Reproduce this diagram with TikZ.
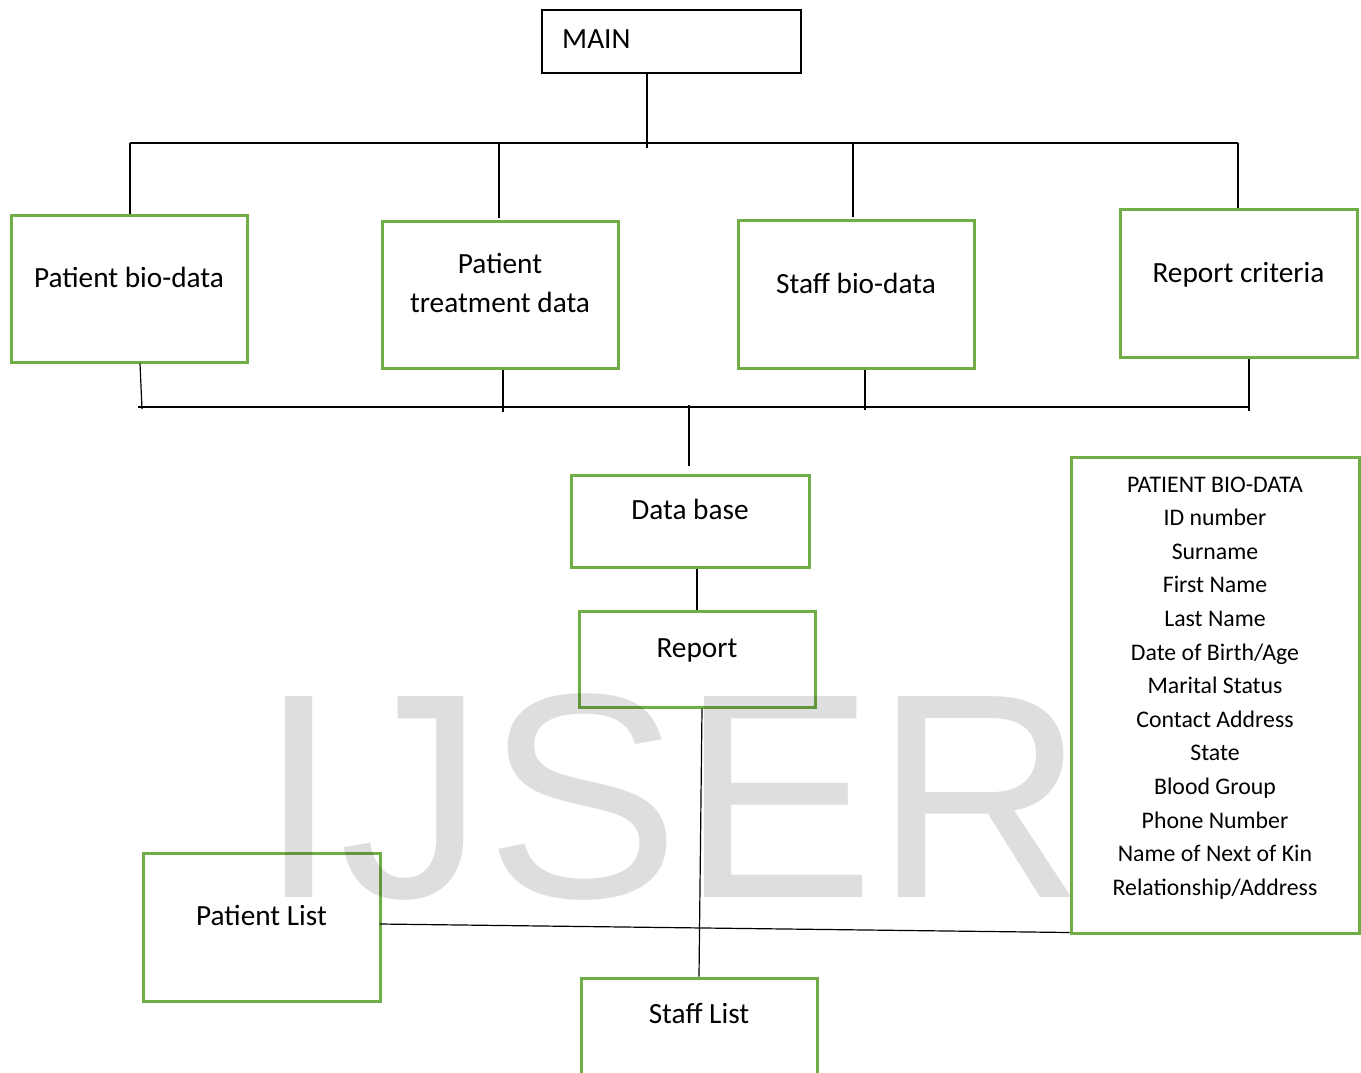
\documentclass[tikz,border=0pt]{standalone}
\usepackage{fontspec}
\setmainfont{Carlito}
\newfontfamily\wmfont{Liberation Sans}
\definecolor{boxgreen}{RGB}{112,173,71}
\tikzset{
  gbox/.style={draw=boxgreen, line width=3pt, inner sep=0pt, fill=none},
  kbox/.style={draw=black, line width=1.3pt, inner sep=0pt},
  conn/.style={draw=black, line width=1.2pt},
  lbl/.style={anchor=base, inner sep=0pt, font=\fontsize{29.3}{34}\selectfont},
  sml/.style={anchor=base, inner sep=0pt, font=\fontsize{23.8}{28}\selectfont},
}
\begin{document}
\begin{tikzpicture}[x=1pt,y=-1pt]
\useasboundingbox (0,0) rectangle (1361,1072);
\clip (0,0) rectangle (1361,1072);
\fill[white] (0,0) rectangle (1361,1072);

% boxes
\node[kbox, minimum width=259, minimum height=63] (main) at (671.5,41.5) {};
\node[lbl, anchor=base west] (mainT) at (562,48) {MAIN};

\node[gbox, minimum width=236, minimum height=147] (pbio) at (129,288.5) {};
\node[lbl] (pbioT) at (129,287) {Patient bio-data};

\node[gbox, minimum width=236, minimum height=147] (ptreat) at (500,294.5) {};
\node[lbl] (ptreatT1) at (500,273) {Patient};
\node[lbl] (ptreatT2) at (500,312) {treatment data};

\node[gbox, minimum width=236, minimum height=148] (sbio) at (856,294) {};
\node[lbl] (sbioT) at (856,293) {Staff bio-data};

\node[gbox, minimum width=237, minimum height=148] (rcrit) at (1238.5,283) {};
\node[lbl] (rcritT) at (1238.5,282) {Report criteria};

\node[gbox, minimum width=238, minimum height=92] (db) at (690,521) {};
\node[lbl] (dbT) at (690,519) {Data base};

\node[gbox, minimum width=236, minimum height=96] (rep) at (697,659) {};
\node[lbl] (repT) at (697,657) {Report};

\node[gbox, minimum width=237, minimum height=148] (plist) at (261.5,927) {};
\node[lbl] (plistT) at (261.5,925) {Patient List};

\node[gbox, minimum width=236, minimum height=104] (slist) at (699,1030) {};
\node[lbl] (slistT) at (699,1023) {Staff List};

\node[gbox, minimum width=288, minimum height=476] (lbox) at (1215,695) {};
\foreach \t [count=\i from 0] in {PATIENT BIO-DATA, ID number, Surname, First Name, Last Name, Date of Birth/Age, Marital Status, Contact Address, State, Blood Group, Phone Number, Name of Next of Kin, Relationship/Address}
  \node[sml] (l\i) at (1215,{492+33.6*\i}) {\t};

% top bus
\coordinate (tL) at (130,143);
\coordinate (tR) at (1238,143);
\draw[conn] (tL) -- (tR);
\draw[conn] ([xshift=-24.5pt]main.south) -- ++(0,74);
\draw[conn] (tL) -- ([xshift=1pt]pbio.north);
\draw[conn] ([xshift=-1pt]ptreat.north |- tL) -- ([xshift=-1pt,yshift=2pt]ptreat.north);
\draw[conn] ([xshift=-3pt]sbio.north |- tL) -- ([xshift=-3pt,yshift=2pt]sbio.north);
\draw[conn] (tR) -- ([xshift=-0.5pt]rcrit.north);

% bottom bus
\coordinate (bL) at (138,407);
\coordinate (bR) at (1249,407);
\draw[conn] (bL) -- (bR);
\draw[conn] ([xshift=11pt]pbio.south) -- (142,409);
\draw[conn] ([xshift=3pt]ptreat.south) -- ++(0,42);
\draw[conn] ([xshift=9pt]sbio.south) -- ++(0,40);
\draw[conn] ([xshift=10.5pt]rcrit.south) -- ++(0,52);
\draw[conn] (689,405) -- ([xshift=-1pt,yshift=8pt]db.north);

% lower links
\draw[conn] (db.south -| rep.north) -- (rep.north);
\draw[conn] ([xshift=5pt]rep.south) -- (slist.north);
\draw[conn] ([yshift=3pt,xshift=-2pt]plist.east) -- ([yshift=2pt]lbox.south west);

% watermark
\node[anchor=base west, inner sep=0pt, text=black, text opacity=0.13,
      font=\wmfont\fontsize{292}{300}\selectfont] (wm) at (258,897) {IJSER};
\end{tikzpicture}
\end{document}
